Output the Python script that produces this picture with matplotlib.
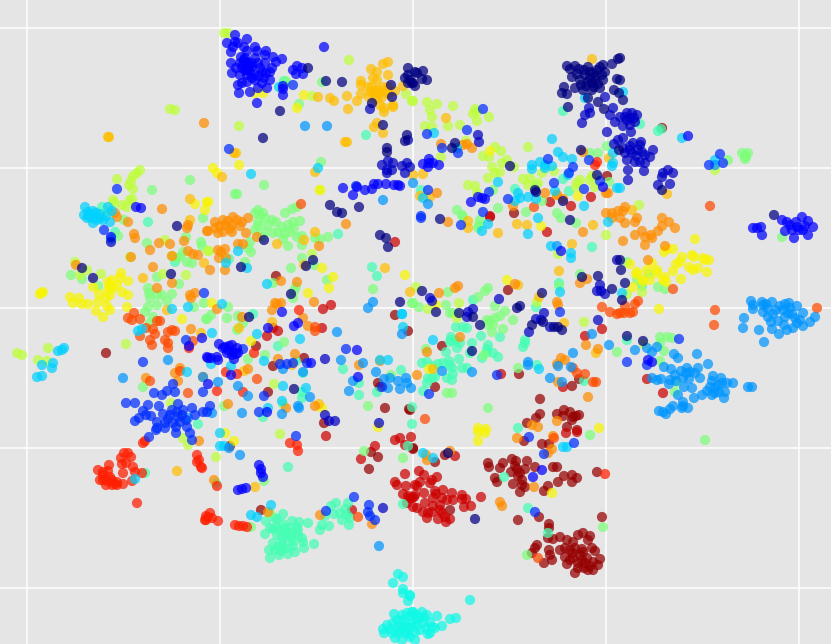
import matplotlib

matplotlib.use("Agg")
import matplotlib.pyplot as plt

GRID_X = [27, 220, 413, 606, 799]
GRID_Y = [28, 168, 308, 448, 588]

NAVY = [(326,81),(342,82),(308,68),(280,111),(263,138),(391,85),(392,97),(372,103),(383,125),(407,135),(405,141),(387,148),(387,152),
    (408,68),(405,78),(408,75),(412,83),(415,72),(408,83),(417,73),(423,71),(413,83),(422,79),(427,80),(415,86),(410,80),(330,205),(337,212),(342,213),(359,207),
    (452,148),(455,143),(510,166),(535,190),(536,192),(581,150),(597,175),(563,201),(619,150),
    (567,66),(603,65),(612,64),(618,59),(579,69),(570,69),(572,77),(588,67),(600,67),(593,73),(602,75),(585,75),(580,80),(588,82),(592,83),(595,80),(600,88),(603,80),(583,90),(575,88),(592,90),(564,87),(562,93),(567,94),(588,98),
    (590,72),(597,70),(584,70),(577,74),(598,84),(590,78),(586,86),(594,87),(581,85),(605,72),(575,66),(596,76),
    (617,79),(614,90),(619,93),(598,102),(604,109),(568,107),(620,58),(620,80),(623,100),(774,215),(662,190),
    (380,235),(386,238),(388,247),(264,240),(241,267),(306,266),(313,260),(291,294),(400,302),(249,317),(294,389),(82,268),(93,278),(177,226),(171,274),
    (440,219),(480,325),(422,291),(436,312),(459,313),(473,317),(472,351),(570,220),(542,293),(520,306),(517,308),(532,325),(543,322),(582,277),(598,276),(612,289),(620,260),(621,270),(625,283),(622,300),(627,336),(643,341),(448,453),(475,519),(554,327),(558,327),(562,330)]

DBLUE = [(370,109),(408,140),(382,165),(388,161),(393,163),(402,166),(407,163),(410,167),(392,170),(387,173),(405,173),(387,170),
    (478,135),(479,142),(614,144),(589,108),(585,115),(590,113),(582,123),(613,108),(610,115),(615,122),(605,97),(607,132),(618,140),
    (627,113),(632,113),(637,115),(620,117),(630,118),(623,126),(630,125),(631,132),(635,122),(625,117),(627,120),(634,118),
    (623,138),(641,142),(633,143),(640,145),(653,150),(623,148),(630,150),(638,150),(645,155),(650,157),(627,160),(635,162),(640,162),(645,163),(628,170),(644,171),(628,180),(632,153),(625,153),(636,156),(630,146),(642,152),
    (668,170),(673,173),(663,173),(662,177),(658,185),(670,184),(111,242),(325,359),(325,415),(329,421),(335,421),(379,423),
    (499,299),(473,309),(468,312),(467,317),(430,298),(432,301),(529,332),(536,319),(541,320),(544,313),(550,327),(600,285),(597,291),(601,291),(605,294),(598,320),(617,260),(383,508)]

BLUE = [(235,35),(227,43),(235,42),(238,43),(247,39),(231,52),(247,51),(255,47),(257,51),(266,51),(265,55),(273,57),(282,59),(231,63),(240,63),(247,62),(252,63),(258,63),(265,63),(272,68),(270,72),(262,72),(248,68),(245,70),(242,68),(250,72),(232,73),(240,75),(247,75),(270,80),(255,80),(262,83),(242,83),(247,82),(267,88),(258,88),(250,92),(239,93),(257,103),(247,63),(243,65),(252,67),(247,70),(250,66),(244,60),(254,75),
    (245,58),(255,58),(260,68),(236,68),(241,57),(266,73),(252,78),(259,76),(238,85),(264,78),(276,62),(233,47),(244,47),
    (293,70),(297,66),(302,68),(303,74),(296,74),(283,86),(283,89),(283,95),(324,47),
    (343,188),(357,187),(353,195),(365,190),(372,189),(374,184),(378,184),(386,184),(394,185),(398,185),(400,186),(429,159),(423,164),(429,163),(433,163),(439,165),(428,167),
    (471,202),(478,197),(482,198),(485,199),(603,187),(688,136),(753,228),(757,228),(761,227),(762,235),
    (782,220),(802,217),(808,221),(787,222),(797,227),(803,230),(792,230),(813,227),(785,231),(808,235),(794,238),(799,230),(790,225),(796,222),(805,226),
    (111,237),(136,207),(141,208),(219,344),(225,347),(232,345),(228,350),(223,348),(233,352),(238,353),(232,355),(237,348),(211,358),(217,357),(218,360),(234,359),(207,357),(227,353),(231,375),(229,346),(236,354),
    (282,312),(294,326),(298,323),(268,328),(267,412),(311,363),(357,350),(358,377),(648,360),(652,362),(259,465),(261,469),(261,473),(263,477),(246,488),(242,489),(238,490),(533,477),(542,470),(561,251),(202,338),(189,346),(208,358),(208,384)]

ROYAL = [(117,189),(104,230),(293,85),(229,149),(356,186),(427,134),(467,130),(483,109),(442,148),(458,153),(548,159),(428,190),(489,192),(421,216),(483,212),(554,183),(569,173),(573,167),(508,199),(589,160),(584,189),(600,181),(720,154),(709,165),(723,163),(421,218),(461,225),(560,312),(429,394),(497,375),
    (186,340),(173,384),(175,392),(167,391),(162,395),(154,393),(126,403),(135,403),(148,405),(159,406),(143,411),(139,418),(135,421),(151,416),(163,414),(178,404),(177,412),(192,408),(165,423),(157,422),(173,423),(182,415),(187,427),(157,428),(165,428),(203,412),(195,415),(203,392),(143,362),(146,415),(170,415),(180,422),(176,427),(183,410),(172,410),(186,420),(168,419),(178,417),
    (149,437),(156,430),(176,433),(190,433),(192,440),(296,436),(326,511),(354,497),(369,505),(368,512),(370,516),(375,520),(210,406),(207,412),(243,349),(259,412),(346,349),(382,387),(280,364),(287,364),(293,363),(307,363),(264,396),(204,293),(647,365),(679,339),(627,362),(529,437),(574,443),(544,454),(535,512)]

AZURE = [(305,126),(327,126),(383,200),(413,183),(123,378),(168,360),(203,377),(188,418),(212,413),(229,448),(240,455),(218,382),(238,386),(248,396),(242,413),(282,414),(283,369),(303,372),(310,397),(298,406),(299,408),(349,391),(353,381),(363,363),(376,372),(384,379),(390,378),(398,381),(406,378),(407,383),(411,388),(388,388),(400,389),(341,360),(337,332),(402,334),(373,302),(368,308),
    (428,204),(442,371),(472,372),(528,362),(528,365),(557,246),(592,334),(573,353),(609,345),(558,366),(571,367),(550,378),(562,382),(715,165),(379,546),
    (751,301),(753,305),(753,309),(762,302),(763,305),(772,302),(767,308),(763,312),(780,306),(773,314),(789,303),(797,306),(783,310),(790,308),(803,313),(768,317),(785,317),(792,314),(778,321),(771,322),(784,325),(800,320),(815,317),(810,322),(803,326),(793,328),(787,330),(772,329),(779,334),(759,330),(744,318),(743,328),(764,342),(797,323),(785,304),(788,313),(776,310),(795,318),(766,304),
    (697,354),(674,354),(678,358),(708,364),(664,367),(671,369),(681,371),(687,368),(698,368),(690,372),(695,373),(700,378),(675,375),(683,378),(689,379),(652,378),(657,380),(661,379),(670,380),(669,384),(684,387),(692,388),(713,376),(721,378),(712,381),(722,383),(733,383),(727,383),(715,388),(725,392),(707,391),(715,393),(712,395),(702,395),(694,398),(724,398),(683,402),(683,406),(688,408),(673,406),(670,409),(682,408),(659,411),(663,412),(666,414),(748,387),(752,387),(635,350),(657,347),(652,352),(647,348),(678,395),(718,385),(719,392),(686,373),(676,381),(710,387)]

SKY = [(85,207),(108,207),(87,218),(92,218),(97,220),(95,217),(100,218),(110,222),(93,223),(103,220),(89,216),(84,215),(88,212),(93,211),(112,211),(111,239),(172,309),(188,307),(138,331),(142,329),(187,372),(90,214),(96,213),(100,214),(106,216),
    (64,348),(58,351),(62,350),(42,365),(53,363),(52,368),(37,377),(42,376),(279,87),(251,174),(318,168),(238,251),(226,263),(247,268),(267,284),(222,304),(402,314),(403,327),(212,333),(257,334),(300,339),(211,364),(231,366),(264,361),(283,386),(306,388),(282,401),(268,408),(220,433),(220,446),(224,446),(251,515),(257,517),(271,505),(135,479),(380,360),(388,360),(402,314),(433,340),(434,133),(457,148),(423,198),(498,182),
    (558,152),(563,157),(572,159),(540,162),(532,165),(532,169),(545,165),(552,166),(545,168),(568,175),(518,193),(520,198),(528,197),(536,199),(555,191),(515,201),(584,206),(613,153),(612,166),(613,163),(617,188),(552,139),(585,98),(623,92),(620,188),(682,138),(715,160),(622,293),
    (488,224),(482,231),(528,234),(538,218),(608,222),(551,246),(571,253),(571,258),(560,292),(539,369),(563,447),(567,447),(423,453),(433,458)]

CYAN = [(398,574),(403,577),(393,583),(403,589),(403,593),(410,595),(408,601),(394,614),(402,615),(407,613),(412,612),(387,625),(383,629),(384,633),(393,623),(398,627),(405,623),(412,622),(392,633),(398,633),(405,633),(395,638),(402,640),(410,637),(397,620),(408,628),
    (413,612),(422,612),(427,615),(437,616),(417,620),(430,622),(442,626),(412,627),(420,630),(430,633),(435,628),(450,619),(456,618),(470,600),(415,640),(410,596),(423,623),(416,625),(426,628),(400,630),(420,618),
    (410,616),(415,632),(404,627),(424,617),(432,627),(402,620),(417,615),(408,634),(390,629),(428,634)]

AQUA = [(102,207),(115,232),(148,222),(175,262),(338,234),(229,259),(253,314),(284,81),(366,135),(278,346),(343,369),(296,361),(303,373),(302,392),(302,398),(263,417),(359,383),(359,395),(377,276),(372,267),(377,392),(401,370),(198,424),(640,124),(658,131),(661,129),
    (592,247),(536,307),(473,300),(559,283),(642,286),(627,340),(563,111),(563,179),(569,191),(515,189),(421,190),(412,407),(412,424),(423,391),(518,428),(528,508),(504,477),(548,533),
    (456,327),(463,327),(467,328),(481,336),(451,337),(500,337),(525,340),(525,343),(523,347),(472,343),(460,343),(455,340),(450,342),(457,348),(446,352),(451,340),(470,353),(488,345),(487,349),(493,353),(487,352),(498,357),(482,358),(459,359),(449,361),(450,365),(443,363),(438,364),(433,366),(427,362),(422,363),(452,368),(453,374),(447,378),(452,380),(435,377),(428,378),(432,378),(427,383),(462,368),(467,368),(537,365),(584,381),
    (277,519),(283,514),(266,521),(275,518),(292,521),(299,522),(308,523),(297,527),(285,528),(273,529),(265,534),(292,533),(302,538),(287,537),(277,535),(282,543),(293,541),(273,543),(303,542),(314,544),(304,548),(295,552),(288,554),(269,550),(279,555),(270,558),(287,548),(278,547),(280,530),(290,528),(298,530),
    (283,524),(276,527),(286,533),(282,537),(293,546),(275,550),(281,551),(298,535),(291,538),(270,528),(283,546),
    (320,530),(329,526),(322,525),(325,516),(331,506),(336,503),(334,514),(340,513),(345,509),(348,503),(342,520),(349,525),(350,518),(347,515),(288,467),(216,483),(403,504),(408,446),(145,473)]

LGREEN = [(152,190),(190,180),(107,212),(124,220),(118,236),(147,243),(186,237),(201,242),(202,246),(203,218),(180,257),(177,258),(183,252),(187,262),(192,263),(71,275),(82,279),(148,288),(149,293),(157,295),(162,295),(172,294),(150,298),(167,301),(157,305),(148,307),(145,312),(153,317),(150,323),(194,307),(98,286),(157,277),(179,284),(204,303),(206,319),(143,387),
    (286,81),(322,82),(299,104),(321,162),(264,185),(235,194),(237,194),(258,210),(255,213),(263,213),(297,207),(292,209),(285,213),(493,190),(536,185),(498,208),(457,210),(462,215),(526,212),(557,213),(542,201),(609,182),(598,153),(590,153),(607,146),
    (258,222),(265,218),(272,220),(282,227),(288,225),(293,222),(300,221),(255,230),(265,232),(273,233),(283,239),(297,237),(302,236),(288,246),(302,245),(250,242),(248,248),(251,252),(245,262),(315,238),(320,239),(328,237),(302,258),(314,265),(291,268),(327,280),(273,283),(296,287),(294,291),(293,298),(373,289),(412,303),(238,316),(227,318),(211,315),(207,319),(228,307),(237,330),(243,323),(284,342),(248,359),(265,355),(283,404),(224,406),(391,375),(368,406),
    (260,215),(268,225),(258,226),(278,232),(290,232),(285,234),(262,237),(294,228),(276,222),
    (742,153),(748,153),(745,159),(745,155),(746,157),(728,160),(705,440),(782,237),(627,262),(649,274),(637,280),(658,287),(665,289),(660,337),(667,337),(672,338),(660,343),(664,351),(660,361),(677,382),(675,392),(580,274),(559,286),(463,217),(480,220),(479,225),(478,228),(561,218),(576,223),(617,352),
    (413,303),(419,307),(448,292),(446,305),(450,313),(453,313),(426,349),(495,306),(488,288),(485,291),(478,297),(505,311),(500,316),(495,318),(487,320),(490,321),(493,325),(488,325),(513,320),(503,329),(492,332),(484,355),(518,368),(447,393),(452,393),(488,408),
    (264,481),(251,527),(270,513),(364,451),(403,458),(527,555),(603,527),(590,435)]

LIME = [(170,109),(175,110),(140,170),(137,173),(133,176),(131,181),(129,185),(133,189),(117,179),(113,200),(114,203),(122,205),(127,207),(130,200),(132,199),(165,240),(130,257),(172,256),(208,251),(163,274),(186,275),(80,275),(87,270),(75,262),(101,274),(17,353),(22,355),(48,348),(38,360),(47,361),(126,344),(228,33),(224,33),(349,60),(312,96),(406,94),(412,101),(239,126),(320,190),(209,251),(312,254),(274,384),(171,403),
    (413,101),(427,102),(430,110),(432,117),(437,104),(453,106),(475,109),(473,114),(477,112),(489,117),(477,121),(425,126),(432,127),(448,126),(460,125),(466,141),(495,147),(501,151),(483,156),(528,147),(489,157),(441,157),(507,160),(502,163),(514,167),(492,167),(500,172),(495,173),(488,178),(468,185),(475,186),(477,193),(542,173),(554,171),(523,179),(530,178),(528,185),(538,183),(577,183),(580,180),(592,176),(590,180),(595,187),(576,187),
    (416,287),(459,303),(428,309),(457,318),(537,302),(558,254),(606,235),(584,322),(715,170),(639,205),(642,292),(627,294),(644,344),(183,438),(188,445),(216,457),(280,434)]

YELLOW = [(121,273),(120,278),(128,281),(108,282),(110,286),(117,285),(93,287),(108,290),(122,292),(128,295),(110,295),(99,294),(41,293),(43,292),(40,294),(70,297),(79,298),(73,303),(82,304),(88,304),(98,302),(107,306),(110,310),(96,311),(103,317),(127,307),(112,280),(106,298),(113,288),(182,319),(195,204),(207,202),(205,210),(255,93),(263,93),(304,95),(297,108),(239,165),(213,168),(217,173),(208,202),(320,190),(322,268),(333,277),(329,288),(308,293),(405,275),(212,303),(251,341),(225,433),(234,441),(322,408),(378,427),
    (490,151),(429,369),(578,196),(507,280),(436,305),(541,226),(667,249),(664,252),(673,249),(682,257),(692,255),(694,257),(680,262),(676,264),(703,258),(709,260),(705,260),(689,267),(698,268),(693,270),(707,272),(673,271),(681,279),(657,270),(652,263),(630,264),(637,272),(636,274),(642,279),(647,270),(657,273),(665,277),(663,280),(666,282),(650,280),(643,282),(633,287),(659,309),(695,239),(599,428),(552,493),(478,428),(486,429),(478,432),(485,433),(478,441)]

GOLD = [(109,137),(108,137),(190,199),(234,153),(236,153),(222,177),(315,172),(345,142),(347,142),(318,97),(388,62),(383,64),(371,69),(377,72),(388,75),(373,78),(377,80),(361,81),(361,85),(368,87),(372,87),(388,87),(395,91),(378,90),(403,86),(361,94),(347,96),(357,101),(369,97),(375,95),(382,97),(388,94),(330,98),(334,101),(348,109),(380,105),(384,108),(393,105),(393,107),(384,112),(377,123),(374,127),(383,133),(374,91),(380,93),(371,92),(377,99),(385,91),(383,87),
    (190,220),(143,278),(167,310),(204,263),(201,333),(177,471),(255,487),(277,244),(304,265),(239,328),(292,365),(244,371),(319,404),(385,268),(410,292),(304,240),(315,232),(272,322),
    (446,118),(413,175),(423,174),(420,196),(430,197),(557,195),(609,158),(592,59),(667,194),(632,210),(517,224),(527,225),(593,225),(468,221),(468,228),(498,233),(539,297),(564,323),(572,244),(559,271),(596,353),(518,285),(433,369)]

ORANGE = [(204,123),(162,209),(115,213),(117,217),(128,222),(134,234),(135,238),(150,250),(159,243),(170,244),(184,241),(207,231),(131,257),(172,256),(153,267),(193,254),(198,255),(157,288),(172,283),(190,295),(195,293),(191,298),(188,225),(187,228),(188,251),
    (191,329),(180,368),(175,373),(146,378),(178,381),(203,377),(76,265),
    (215,222),(223,220),(233,217),(242,222),(248,218),(232,225),(225,225),(208,231),(218,233),(223,232),(246,233),(232,232),(257,237),(238,244),(243,244),(225,249),(218,250),(221,252),(219,258),(226,258),(225,270),(210,270),(346,224),(319,246),(281,281),(297,282),(275,303),(281,303),(277,304),(272,310),(314,302),(217,309),(242,317),(303,318),(308,326),(278,359),(295,354),(286,408),(315,406),(228,404),(248,369),(359,365),(380,361),
    (220,226),(228,221),(237,220),(215,228),(230,229),(240,226),
    (437,193),(441,144),(463,145),(467,144),(472,148),(545,193),(557,195),(563,199),(513,206),(583,152),(606,193),(608,193),(448,222),(439,293),(455,288),(458,286),(515,284),(427,352),(460,337),(417,375),(557,302),(558,305),(580,283),(587,279),(583,232),
    (637,218),(625,223),(635,222),(662,218),(669,222),(662,226),(658,231),(675,228),(642,231),(651,235),(645,237),(652,238),(635,235),(623,241),(645,245),(665,246),(620,218),(648,260),(625,207),(623,211),(586,345),(598,349),(557,364),(561,358),(565,360),(558,382),(588,397),(557,421),(532,425),(538,427),(612,213),(618,211),(606,213),(612,218),
    (500,502),(502,506),(534,487),(517,438),(553,436),(552,449),(548,453),(426,455),(427,460),(450,451),(199,441),(320,515),(372,524),(268,512),(214,480)]

RORANGE = [(134,313),(128,318),(132,320),(140,319),(160,321),(157,321),(146,328),(153,329),(140,336),(155,334),(168,332),(175,331),(172,330),(165,340),(150,340),(152,345),(168,343),(168,348),(193,341),(180,371),(150,381),(188,393),(301,204),(257,379),(315,327),(315,331),(534,207),(710,206),(714,325),(817,308),(715,310),(673,289),
    (638,301),(635,304),(625,306),(633,312),(630,313),(624,313),(620,313),(602,307),(610,312),(617,314),(573,368),(577,373),(585,374),(593,382),(596,382),(425,419),(538,558),(554,438),(358,517)]

RED = [(98,470),(103,472),(109,465),(108,471),(100,480),(103,480),(106,485),(112,480),(112,485),(117,482),(117,485),(123,484),(123,473),(121,458),(122,464),(124,453),(128,453),(131,457),(126,463),(133,467),(135,472),(142,473),(132,481),(103,475),(110,477),(115,484),(107,481),(137,503),(143,443),(145,441),(197,455),(199,460),(197,462),(201,467),(202,468),(206,516),(206,520),(210,513),(205,520),(212,518),(218,521),(208,517),(235,525),(239,526),(243,526),(247,527),(217,486),(290,443),(297,445),(298,451),
    (189,348),(299,310),(217,391),(243,392),(254,353),(237,374),(226,372),(595,165),(597,162),(605,474)]

CRED = [(323,309),(331,305),(322,328),(273,328),(278,331),(267,336),(395,242),(411,437),(326,436),(375,446),(361,459),(352,510),(395,440),(400,438),(405,445),(405,474),(395,482),(397,485),(406,486),(415,485),(403,494),(408,496),(412,498),(415,495),(407,503),(413,507),
    (419,471),(424,475),(432,480),(437,477),(430,483),(420,482),(417,486),(424,493),(435,491),(443,490),(452,493),(462,495),(481,497),(414,497),(433,498),(442,498),(453,500),(462,499),(466,499),(410,498),(425,503),(440,505),(433,506),(464,507),(471,506),(417,508),(423,512),(442,513),(428,513),(427,518),(438,519),(445,517),(450,519),(446,522),
    (436,494),(440,510),(432,512),(447,500),
    (547,232),(550,202),(571,206),(591,197),(490,216),(490,217),(563,387),(602,329),(585,336),(663,393),(647,379),(501,374),(455,456),(566,433),(577,432)]

DRED = [(106,353),(276,276),(256,346),(268,392),(304,358),(273,366),(385,408),(409,409),(324,423),(408,331),(395,315),(378,383),(380,387),(514,213),(607,176),(662,128),(230,446),(261,510),(371,452),(369,469),(413,448),(508,290),(435,387),(442,346),(519,374),(410,410),(540,399),(540,414),(536,418),(527,423),(572,386),(579,379),(557,414),(564,410),(563,416),(570,412),(573,417),(579,415),(576,416),(572,420),(567,427),(577,430),(542,444),(549,444),(413,449),(435,462),(445,455),(602,517),(524,441),(378,457),
    (488,463),(489,467),(503,463),(512,459),(527,461),(500,468),(515,466),(517,469),(525,469),(535,467),(553,467),(557,467),(511,472),(520,473),(495,478),(497,482),(522,480),(513,484),(522,485),(525,487),(520,492),(558,482),(564,476),(572,475),(577,478),(572,482),(548,486),(544,491),(597,472),(450,510),(516,461),(518,476),
    (539,517),(518,520),(549,524),(549,528),(548,538),(553,539),(560,537),(567,540),(573,542),(578,535),(583,533),(590,536),(588,540),(560,550),(565,548),(582,549),(595,551),(592,548),(573,553),(537,545),(535,548),(549,550),(532,553),(550,555),(565,557),(573,558),(580,555),(587,558),(552,560),(544,563),(567,564),(578,563),(585,563),(593,562),(600,559),(598,565),(578,568),(588,570),(593,570),(575,573),(570,560),(583,552),(575,548),(582,560),(590,566),(584,568),(570,550)]

GROUPS = [
    (DRED, 0.98), (CRED, 0.93), (AQUA, 0.43), (LGREEN, 0.50), (LIME, 0.58),
    (YELLOW, 0.65), (GOLD, 0.71), (ORANGE, 0.76), (RORANGE, 0.83), (RED, 0.875),
    (CYAN, 0.37), (SKY, 0.33), (AZURE, 0.27), (ROYAL, 0.17), (BLUE, 0.11),
    (DBLUE, 0.06), (NAVY, 0.0),
]

fig = plt.figure(figsize=(8.31, 6.44), dpi=100)
ax = fig.add_axes([0, 0, 1, 1], facecolor="#E5E5E5")

for points, value in GROUPS:
    xs = [p[0] for p in points]
    ys = [p[1] for p in points]
    ax.scatter(xs, ys, c=[value] * len(xs), cmap="jet", vmin=0, vmax=1,
               s=54, alpha=0.72, linewidths=0, zorder=3)

ax.set_xlim(0, 831)
ax.set_ylim(644, 0)
ax.set_xticks(GRID_X)
ax.set_yticks(GRID_Y)
ax.tick_params(length=0, labelbottom=False, labelleft=False)
ax.grid(color="white", linewidth=1.1)
ax.set_axisbelow(True)
for spine in ax.spines.values():
    spine.set_visible(False)

fig.savefig("out.png", dpi=100, facecolor="white")
